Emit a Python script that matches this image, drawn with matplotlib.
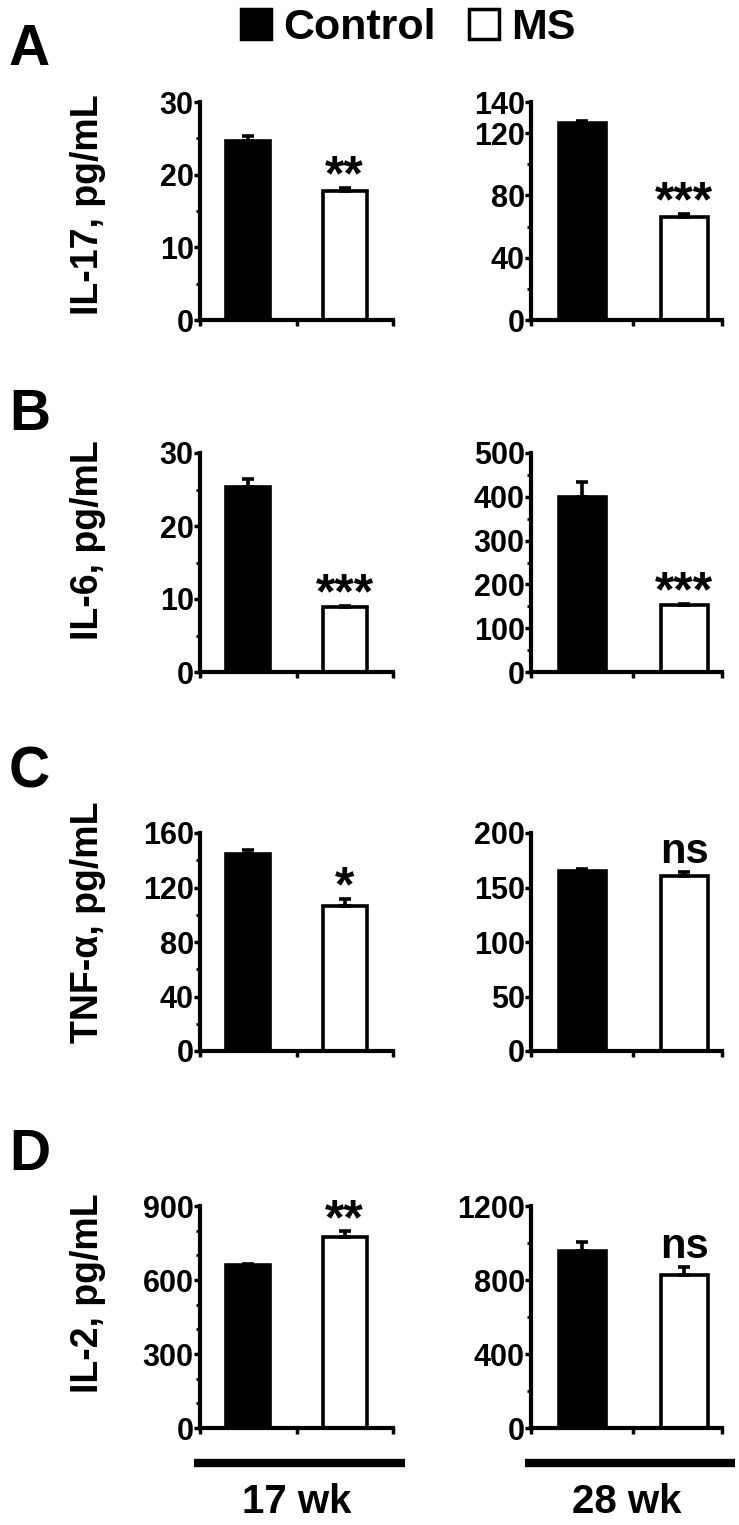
import matplotlib
matplotlib.use('Agg')
import matplotlib.pyplot as plt
from matplotlib.lines import Line2D
from matplotlib.ticker import FixedLocator

plt.rcParams['font.family'] = ['Liberation Sans', 'DejaVu Sans']
plt.rcParams['font.weight'] = 'bold'

groups = ['Control', 'MS']
weeks = ['17 wk', '28 wk']
ylabels = ['IL-17, pg/mL', 'IL-6, pg/mL', 'TNF-α, pg/mL', 'IL-2, pg/mL']
letters = ['A', 'B', 'C', 'D']

# mean values [Control, MS] and SEM, per panel (row, week)
means = [
    [[24.7, 17.7], [126.3, 66.1]],
    [[25.4, 8.9], [399, 152]],
    [[144.4, 106.6], [165, 161]],
    [[660, 776], [956, 829]],
]
sems = [
    [[0.6, 0.5], [1.8, 2.2]],
    [[1.0, 0.2], [35, 4]],
    [[3.0, 5.0], [2.0, 3.0]],
    [[4, 22], [50, 40]],
]
signif = [
    ['**', '***'],
    ['***', '***'],
    ['*', 'ns'],
    ['**', 'ns'],
]
major_ticks = [
    [[0, 10, 20, 30], [0, 40, 80, 120, 140]],
    [[0, 10, 20, 30], [0, 100, 200, 300, 400, 500]],
    [[0, 40, 80, 120, 160], [0, 50, 100, 150, 200]],
    [[0, 300, 600, 900], [0, 400, 800, 1200]],
]
minor_ticks = [
    [[5, 15, 25], [20, 60, 100]],
    [[5, 15, 25], [50, 150, 250, 350, 450]],
    [[20, 60, 100, 140], []],
    [[100, 200, 400, 500, 700, 800], [200, 600, 1000]],
]

W, H = 739, 1525
fig = plt.figure(figsize=(W / 100, H / 100), dpi=100)

# axes boxes in pixels: (left, width) per column, (top, bottom) per row
cols = [(200, 193), (531, 191)]
xmax = [2.0, 1.87]
rows = [(102, 320), (453, 672), (833, 1051), (1206, 1428)]
ylabel_y = [205, 540, 922, 1293]
letter_base = [65, 430, 788, 1170]

bar_x = [0.5, 1.5]
colors = ['black', 'white']

for r in range(4):
    for c in range(2):
        left, width = cols[c]
        top, bottom = rows[r]
        ax = fig.add_axes([left / W, 1 - bottom / H, width / W, (bottom - top) / H])
        vals = means[r][c]
        errs = sems[r][c]
        ax.bar(bar_x, vals, width=0.46, color=colors, edgecolor='black',
               linewidth=2.6, zorder=2)
        for i in range(2):
            ax.errorbar(bar_x[i], vals[i], yerr=[[0], [errs[i]]], fmt='none',
                        ecolor='black', elinewidth=2.6, capsize=4, capthick=2.6,
                        zorder=3)
        ymax = major_ticks[r][c][-1]
        ax.set_ylim(0, ymax)
        ax.set_xlim(0, xmax[c])
        ax.yaxis.set_major_locator(FixedLocator(major_ticks[r][c]))
        ax.yaxis.set_minor_locator(FixedLocator(minor_ticks[r][c]))
        ax.set_xticks([0, 1, xmax[c]])
        ax.set_xticklabels([])
        for s in ['top', 'right']:
            ax.spines[s].set_visible(False)
        for s in ['left', 'bottom']:
            ax.spines[s].set_linewidth(3)
        ax.tick_params(axis='y', which='major', length=4, width=2.5, pad=0.5,
                       labelsize=22)
        ax.tick_params(axis='y', which='minor', length=3, width=2)
        ax.tick_params(axis='x', which='major', length=4, width=2.5)
        for lab in ax.get_yticklabels():
            lab.set_fontweight('bold')

        # significance marks above MS bar
        mark = signif[r][c]
        top_val = vals[1] + errs[1]
        if mark == 'ns':
            ax.annotate(mark, (bar_x[1], top_val), xytext=(0, 7),
                        textcoords='offset points', ha='center', va='baseline',
                        fontsize=30, fontweight='bold', annotation_clip=False)
        else:
            ax.annotate(mark, (bar_x[1], top_val), xytext=(0, -2),
                        textcoords='offset points', ha='center', va='baseline',
                        fontsize=36, fontweight='bold', annotation_clip=False)

        if r == 3:
            x0 = -0.03
            x1 = 1.06 if c == 0 else 1.07
            ax.add_line(Line2D([x0, x1], [-0.158, -0.158], transform=ax.transAxes,
                               color='black', linewidth=6, clip_on=False,
                               solid_capstyle='butt'))
            ax.text(0.5, -0.335, weeks[c], transform=ax.transAxes, ha='center',
                    va='center', fontsize=29, fontweight='bold')

    fig.text(88 / W, 1 - ylabel_y[r] / H, ylabels[r], rotation=90, ha='center',
             va='center', fontsize=27, fontweight='bold')
    fig.text(9 / W, 1 - letter_base[r] / H, letters[r], ha='left', va='baseline',
             fontsize=41, fontweight='bold')

handles = [
    Line2D([], [], marker='s', linestyle='none', markersize=22,
           markerfacecolor='black', markeredgecolor='black', markeredgewidth=2.5),
    Line2D([], [], marker='s', linestyle='none', markersize=22,
           markerfacecolor='white', markeredgecolor='black', markeredgewidth=2.5),
]
fig.legend(handles, groups, loc='center', bbox_to_anchor=(405 / W, 1 - 28 / H),
           ncol=2, frameon=False, handlelength=1.0, handletextpad=0.15,
           columnspacing=0.6, prop={'size': 31, 'weight': 'bold'})

fig.savefig('out.png', dpi=100)
